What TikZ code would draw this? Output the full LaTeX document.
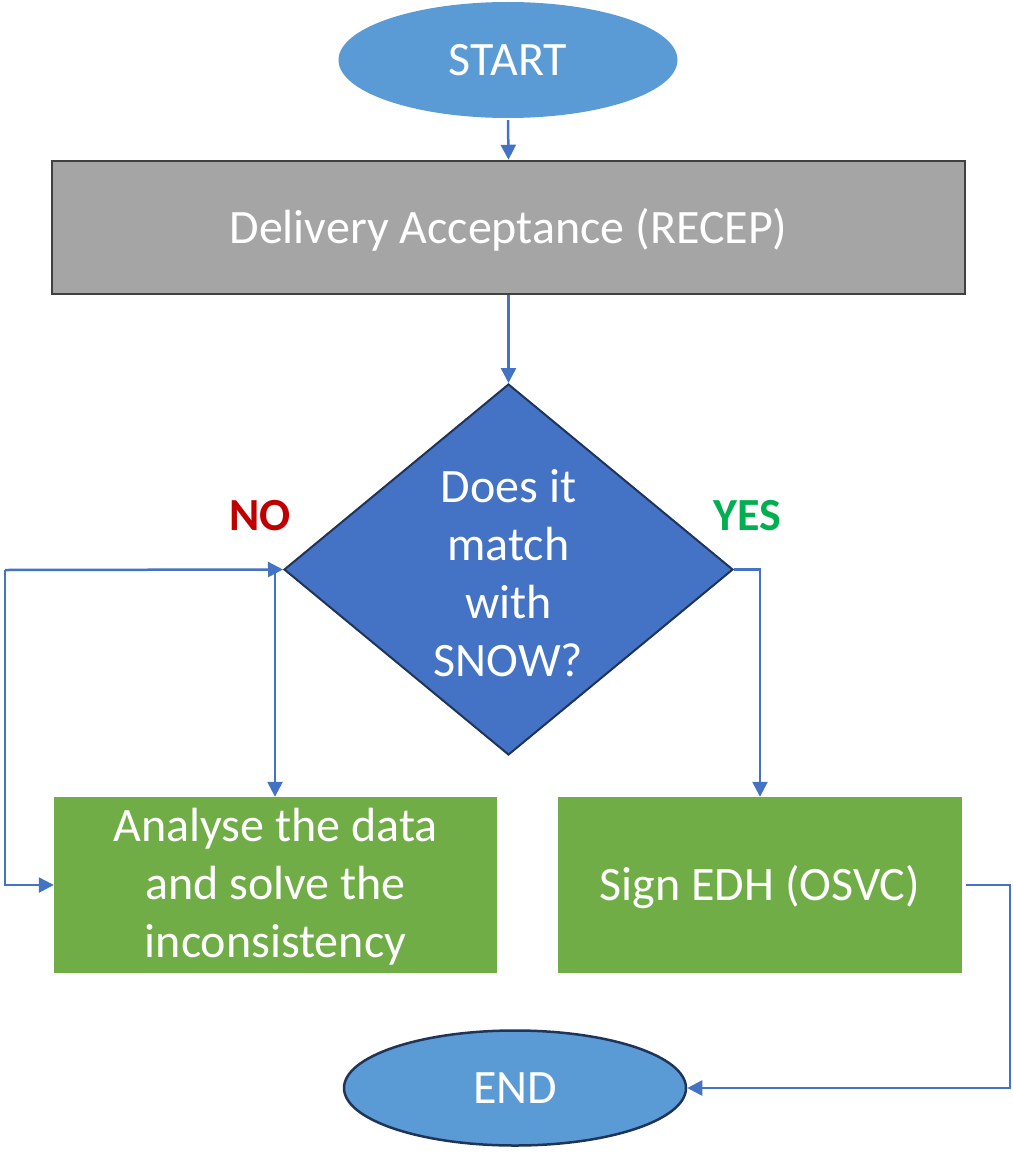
\documentclass[tikz,border=0pt]{standalone}
\usepackage{fontspec}
\setmainfont{Carlito}
\usetikzlibrary{shapes.geometric,arrows.meta}
\definecolor{termfill}{HTML}{5B9BD5}
\definecolor{decfill}{HTML}{4472C4}
\definecolor{navy}{HTML}{1F3458}
\definecolor{greyfill}{HTML}{A5A5A5}
\definecolor{greyline}{HTML}{404040}
\definecolor{actfill}{HTML}{70AD47}
\definecolor{linkblue}{HTML}{4472C4}
\definecolor{nored}{HTML}{C00000}
\definecolor{yesgreen}{HTML}{00B050}
\tikzset{
  every node/.style={font=\fontsize{48}{58}\selectfont, text=white, inner sep=0pt},
  terminal/.style={ellipse, fill=termfill},
  process/.style={rectangle, fill=greyfill, draw=greyline, line width=2.5pt},
  decision/.style={diamond, fill=decfill, draw=navy, line width=2pt},
  action/.style={rectangle, fill=actfill},
  link/.style={draw=linkblue, line width=2.5pt, -{Triangle[length=15pt,width=15pt]}},
  answer/.style={font=\fontsize{46}{54}\selectfont\bfseries}
}
\begin{document}
\begin{tikzpicture}[x=1pt,y=-1pt]
\useasboundingbox (0,0) rectangle (1012,1153);

\node[terminal, minimum width=339pt, minimum height=116pt] (start) at (508,60) {START};
\node[process, minimum width=913pt, minimum height=133pt] (recep) at (508.5,227.5) {};
\node (receptext) at (508.5,230) {Delivery Acceptance (RECEP)};
\node[decision, minimum width=449pt, minimum height=371pt] (dec) at (508.5,569.5) {};
\node[align=center] (dectext) at (508.5,573) {Does it\\match\\with\\SNOW?};
\node[action, minimum width=443pt, minimum height=176pt] (analyse) at (275.5,885) {};
\node[align=center] (analysetext) at (275.5,887) {Analyse the data\\and solve the\\inconsistency};
\node[action, minimum width=404pt, minimum height=176pt] (sign) at (760,885) {};
\node (signtext) at (760,887) {Sign EDH (OSVC)};
\node[terminal, draw=navy, line width=2.5pt, minimum width=342pt, minimum height=115pt] (end) at (515,1088) {END};

\node[answer, text=nored] (no) at (260,516) {NO};
\node[answer, text=yesgreen] (yes) at (747,516) {YES};

\coordinate (loopleft) at (5,570);
\coordinate (nodrop) at (275,570);
\coordinate (yesturn) at (760,570);
\coordinate (signout) at (966,885);
\coordinate (rightrail) at (1010,885);

\draw[link] (start.south) ++(0,2) -- (recep.north);
\draw[link] (recep.south) -- (dec.north);
\draw[link] (loopleft) -- (dec.west);
\draw[link] (loopleft) |- (analyse.west);
\draw[link] ([yshift=4pt]nodrop) -- (nodrop |- analyse.north);
\draw[link] (dec.east) -| (sign.north -| yesturn);
\draw[link] (signout) -- (rightrail) |- (end.east);
\end{tikzpicture}
\end{document}
